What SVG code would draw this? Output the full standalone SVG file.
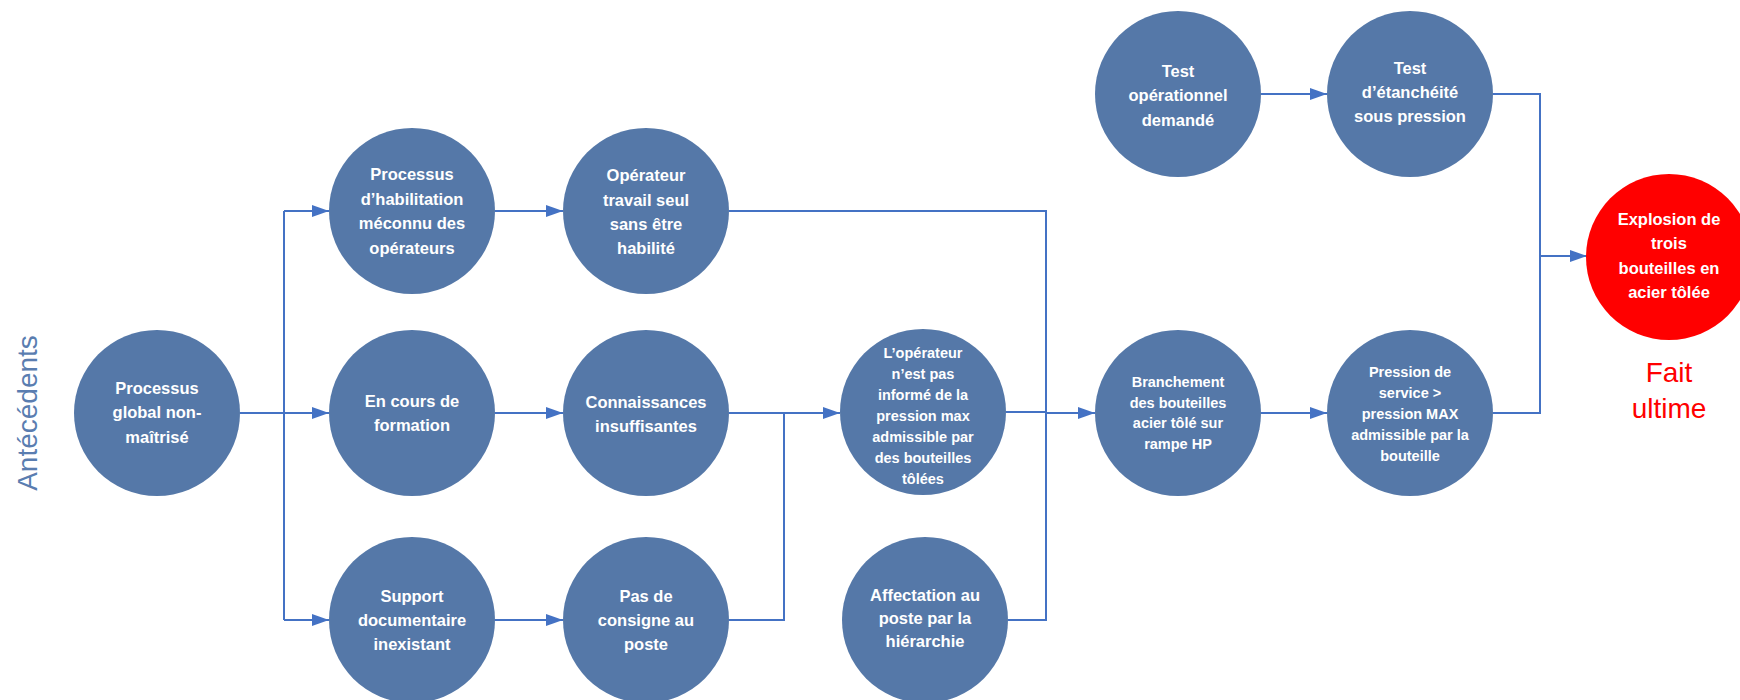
<svg xmlns="http://www.w3.org/2000/svg" width="1740" height="700" viewBox="0 0 1740 700">
<style>
.node circle{fill:#5578A8}
.node text{font-family:"Liberation Sans",Arial,sans-serif;font-weight:bold;font-size:16.5px;fill:#ffffff;text-anchor:middle}
.node text.sm{font-size:14.5px}
.final circle{fill:#FF0000}
.conn path{fill:none;stroke:#4472C4;stroke-width:2}
.conn path.arr{marker-end:url(#ah)}
.lbl{font-family:"Liberation Sans",Arial,sans-serif;text-anchor:middle}
</style>
<defs>
<marker id="ah" markerUnits="userSpaceOnUse" viewBox="0 0 17 12" refX="17" refY="6" markerWidth="17" markerHeight="12" orient="auto">
<path d="M0,0 L17,6 L0,12 z" fill="#4472C4"/>
</marker>
</defs>
<rect width="1740" height="700" fill="#ffffff"/>

<g id="connectors" class="conn">
<path d="M240,413 H284"/>
<path d="M284,211 V620"/>
<path class="arr" d="M284,211 H329"/>
<path class="arr" d="M284,413 H329"/>
<path class="arr" d="M284,620 H329"/>
<path class="arr" d="M495,211 H563"/>
<path class="arr" d="M495,413 H563"/>
<path class="arr" d="M495,620 H563"/>
<path d="M729,413 H784"/>
<path d="M729,620 H784 V413"/>
<path class="arr" d="M784,413 H840"/>
<path d="M729,211 H1046 V620 H1008"/>
<path d="M1006,412 H1046"/>
<path class="arr" d="M1046,413 H1095"/>
<path class="arr" d="M1261,94 H1327"/>
<path class="arr" d="M1261,413 H1327"/>
<path d="M1493,94 H1540 V413 H1493"/>
<path class="arr" d="M1540,256 H1587"/>
</g>

<g id="n1" class="node">
<circle cx="157" cy="413" r="83"/>
<text x="157" y="393.5">Processus</text>
<text x="157" y="418">global non-</text>
<text x="157" y="442.5">maîtrisé</text>
</g>
<g id="n2" class="node">
<circle cx="412" cy="211" r="83"/>
<text x="412" y="180">Processus</text>
<text x="412" y="205">d’habilitation</text>
<text x="412" y="229">méconnu des</text>
<text x="412" y="254">opérateurs</text>
</g>
<g id="n3" class="node">
<circle cx="412" cy="413" r="83"/>
<text x="412" y="407">En cours de</text>
<text x="412" y="431">formation</text>
</g>
<g id="n4" class="node">
<circle cx="412" cy="620" r="83"/>
<text x="412" y="602">Support</text>
<text x="412" y="626">documentaire</text>
<text x="412" y="650">inexistant</text>
</g>
<g id="n5" class="node">
<circle cx="646" cy="211" r="83"/>
<text x="646" y="181">Opérateur</text>
<text x="646" y="205.5">travail seul</text>
<text x="646" y="230">sans être</text>
<text x="646" y="254">habilité</text>
</g>
<g id="n6" class="node">
<circle cx="646" cy="413" r="83"/>
<text x="646" y="408">Connaissances</text>
<text x="646" y="432">insuffisantes</text>
</g>
<g id="n7" class="node">
<circle cx="646" cy="620" r="83"/>
<text x="646" y="602">Pas de</text>
<text x="646" y="626">consigne au</text>
<text x="646" y="650">poste</text>
</g>
<g id="n8" class="node">
<circle cx="923" cy="412" r="83"/>
<text class="sm" x="923" y="357.5">L’opérateur</text>
<text class="sm" x="923" y="378.5">n’est pas</text>
<text class="sm" x="923" y="399.5">informé de la</text>
<text class="sm" x="923" y="420.5">pression max</text>
<text class="sm" x="923" y="441.5">admissible par</text>
<text class="sm" x="923" y="462.5">des bouteilles</text>
<text class="sm" x="923" y="483.5">tôlées</text>
</g>
<g id="n9" class="node">
<circle cx="925" cy="620" r="83"/>
<text x="925" y="601">Affectation au</text>
<text x="925" y="624">poste par la</text>
<text x="925" y="647">hiérarchie</text>
</g>
<g id="n10" class="node">
<circle cx="1178" cy="94" r="83"/>
<text x="1178" y="76.5">Test</text>
<text x="1178" y="101">opérationnel</text>
<text x="1178" y="125.5">demandé</text>
</g>
<g id="n11" class="node">
<circle cx="1410" cy="94" r="83"/>
<text x="1410" y="74">Test</text>
<text x="1410" y="98">d’étanchéité</text>
<text x="1410" y="121.5">sous pression</text>
</g>
<g id="n12" class="node">
<circle cx="1178" cy="413" r="83"/>
<text class="sm" x="1178" y="386.5">Branchement</text>
<text class="sm" x="1178" y="407.5">des bouteilles</text>
<text class="sm" x="1178" y="428">acier tôlé sur</text>
<text class="sm" x="1178" y="448.5">rampe HP</text>
</g>
<g id="n13" class="node">
<circle cx="1410" cy="413" r="83"/>
<text class="sm" x="1410" y="376.5">Pression de</text>
<text class="sm" x="1410" y="397.5">service &gt;</text>
<text class="sm" x="1410" y="418.5">pression MAX</text>
<text class="sm" x="1410" y="439.5">admissible par la</text>
<text class="sm" x="1410" y="460.5">bouteille</text>
</g>
<g id="n14" class="node final">
<circle cx="1669" cy="257" r="83"/>
<text x="1669" y="224.5">Explosion de</text>
<text x="1669" y="249">trois</text>
<text x="1669" y="273.5">bouteilles en</text>
<text x="1669" y="298">acier tôlée</text>
</g>

<text class="lbl" transform="translate(37,413) rotate(-90)" x="0" y="0" font-size="28" fill="#5A7DB0">Antécédents</text>
<text class="lbl" x="1669" y="382" font-size="28" fill="#FF0000">Fait</text>
<text class="lbl" x="1669" y="418" font-size="28" fill="#FF0000">ultime</text>
</svg>
